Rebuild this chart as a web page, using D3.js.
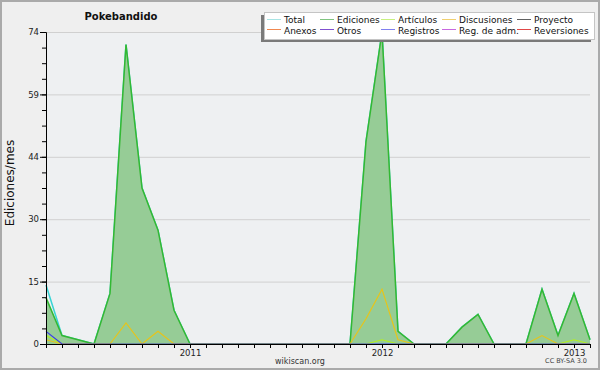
<!DOCTYPE html>
<html>
<head>
<meta charset="utf-8">
<script src="https://cdn.jsdelivr.net/npm/d3@7"></script>
<style>
  body { margin: 0; background: #fff; }
  text { font-family: "DejaVu Sans", sans-serif; }
</style>
</head>
<body>
<svg class="chart" width="600" height="370"></svg>
<script>
// Monthly values, Apr 2010 .. Feb 2013
const months = ["2010-04","2010-05","2010-06","2010-07","2010-08","2010-09","2010-10","2010-11","2010-12",
  "2011-01","2011-02","2011-03","2011-04","2011-05","2011-06","2011-07","2011-08","2011-09","2011-10","2011-11","2011-12",
  "2012-01","2012-02","2012-03","2012-04","2012-05","2012-06","2012-07","2012-08","2012-09","2012-10","2012-11","2012-12",
  "2013-01","2013-02"];
const total       = [14,2,1,0,12,71,37,27,8,0,0,0,0,0,0,0,0,0,0,0,48,74,3,0,0,0,4,7,0,0,0,13,2,12,1];
const ediciones   = [11,2,1,0,12,71,37,27,8,0,0,0,0,0,0,0,0,0,0,0,48,74,3,0,0,0,4,7,0,0,0,13,2,12,1];
const articulos   = [2,0,0,0,0,0,0,0,0,0,0,0,0,0,0,0,0,0,0,0,0,1,0,0,0,0,0,0,0,0,0,0,0,1,0];
const discusiones = [1,0,0,0,0,5,0,3,0,0,0,0,0,0,0,0,0,0,0,0,6,13,1,0,0,0,0,0,0,0,0,2,0,0,0];
const registros   = [3,0,0,0,0,0,0,0,0,0,0,0,0,0,0,0,0,0,0,0,0,0,0,0,0,0,0,0,0,0,0,0,0,0,0];
const yMax = 74;

const legendRow1 = ["Total", "Ediciones", "Artículos", "Discusiones", "Proyecto"];
const legendRow2 = ["Anexos", "Otros", "Registros", "Reg. de adm.", "Reversiones"];
const legendColors1 = ["#a8e4e4", "#80c480", "#c8f080", "#f0d070", "#606060"];
const legendColors2 = ["#f08850", "#8050d0", "#8080f0", "#c868e0", "#e04848"];

const svg = d3.select(".chart");
const W = 600, H = 370;
const margin = { top: 32, right: 10, bottom: 26, left: 46 },
      width = W - margin.left - margin.right,
      height = H - margin.top - margin.bottom;

// Background and outer frame
svg.append("rect").attr("x", 1).attr("y", 1).attr("width", W - 2).attr("height", H - 2)
    .attr("fill", "#efefef").attr("stroke", "#aaaaaa").attr("stroke-width", 2);

const g = svg.append("g").attr("transform", `translate(${margin.left},${margin.top})`);

g.append("rect").attr("width", width).attr("height", height).attr("fill", "#eef0f2");

const x = d3.scaleLinear().domain([0, months.length - 1]).range([0, width]);
const y = d3.scaleLinear().domain([0, yMax]).range([height, 0]);

// Gridlines + y ticks
const majorTicks = d3.range(0, 6).map(i => yMax * i / 5);
const minorTicks = d3.range(0, 21).map(i => yMax * i / 20);

g.selectAll(".grid").data(majorTicks.slice(1)).enter().append("line")
    .attr("x1", 0).attr("x2", width)
    .attr("y1", d => y(d) + 0.5).attr("y2", d => y(d) + 0.5)
    .attr("stroke", "#d0d0d0");

// Series
const line = d3.line().x((d, i) => x(i)).y(d => y(d));
const area = d3.area().x((d, i) => x(i)).y0(height).y1(d => y(d));

g.append("path").datum(total).attr("d", line)
    .attr("fill", "none").attr("stroke", "#38d4d4").attr("stroke-width", 1.5);

g.append("path").datum(ediciones).attr("d", area)
    .attr("fill", "#96cc96");
g.append("path").datum(ediciones).attr("d", line)
    .attr("fill", "none").attr("stroke", "#33b833").attr("stroke-width", 1.5);

g.append("path").datum(articulos).attr("d", line)
    .attr("fill", "none").attr("stroke", "#b4f020").attr("stroke-width", 1.2);
g.append("path").datum(discusiones).attr("d", line)
    .attr("fill", "none").attr("stroke", "#e8c418").attr("stroke-width", 1.2);
g.append("path").datum(registros).attr("d", line)
    .attr("fill", "none").attr("stroke", "#3838e8").attr("stroke-width", 1.2);

// Axes
const yAxisMinor = d3.axisLeft(y).tickValues(minorTicks).tickSize(4).tickFormat("");
g.append("g").call(yAxisMinor).call(s => s.select(".domain").remove());

const yAxis = d3.axisLeft(y).tickValues(majorTicks).tickSize(6).tickPadding(1)
    .tickFormat(d => Math.round(d));
g.append("g").call(yAxis)
    .call(s => s.selectAll("text").attr("font-size", "8.5px").attr("fill", "#222").attr("font-family", "DejaVu Sans"));

const xAxis = d3.axisBottom(x).tickValues(d3.range(months.length)).tickSize(4).tickPadding(2)
    .tickFormat(i => months[i].endsWith("-01") ? months[i].slice(0, 4) : "");
g.append("g").attr("transform", `translate(0,${height})`).call(xAxis)
    .call(s => s.selectAll("text").attr("font-size", "8.5px").attr("fill", "#222").attr("font-family", "DejaVu Sans"));

g.selectAll(".domain").attr("stroke", "#000");
g.selectAll(".tick line").attr("stroke", "#000");

// Title and labels
svg.append("text").attr("x", 121).attr("y", 20).attr("text-anchor", "middle")
    .attr("font-size", "10px").attr("font-weight", "bold").attr("fill", "#111").text("Pokebandido");

svg.append("text").attr("transform", "translate(14,183) rotate(-90)").attr("text-anchor", "middle")
    .attr("font-size", "12px").attr("fill", "#111").text("Ediciones/mes");

svg.append("text").attr("x", 300).attr("y", 364).attr("text-anchor", "middle")
    .attr("font-size", "8px").attr("fill", "#333").text("wikiscan.org");

svg.append("text").attr("x", 587).attr("y", 363).attr("text-anchor", "end")
    .attr("font-size", "6.5px").attr("fill", "#444").text("CC BY-SA 3.0");

// Legend
const lg = svg.append("g");
lg.append("rect").attr("x", 261).attr("y", 15).attr("width", 330).attr("height", 27).attr("fill", "#7a7a7a");
lg.append("rect").attr("x", 264.5).attr("y", 12.5).attr("width", 330).attr("height", 27)
    .attr("fill", "#fff").attr("stroke", "#c4c4c4");

const colX = [267, 320, 381, 442, 517];
[[legendRow1, legendColors1, 19.5, 23], [legendRow2, legendColors2, 29.5, 34]].forEach(([names, colors, ly, ty]) => {
    names.forEach((name, i) => {
        lg.append("line").attr("x1", colX[i]).attr("x2", colX[i] + 14).attr("y1", ly).attr("y2", ly)
            .attr("stroke", colors[i]);
        lg.append("text").attr("x", colX[i] + 17).attr("y", ty)
            .attr("font-size", "9px").attr("fill", "#111").text(name);
    });
});
</script>
</body>
</html>
